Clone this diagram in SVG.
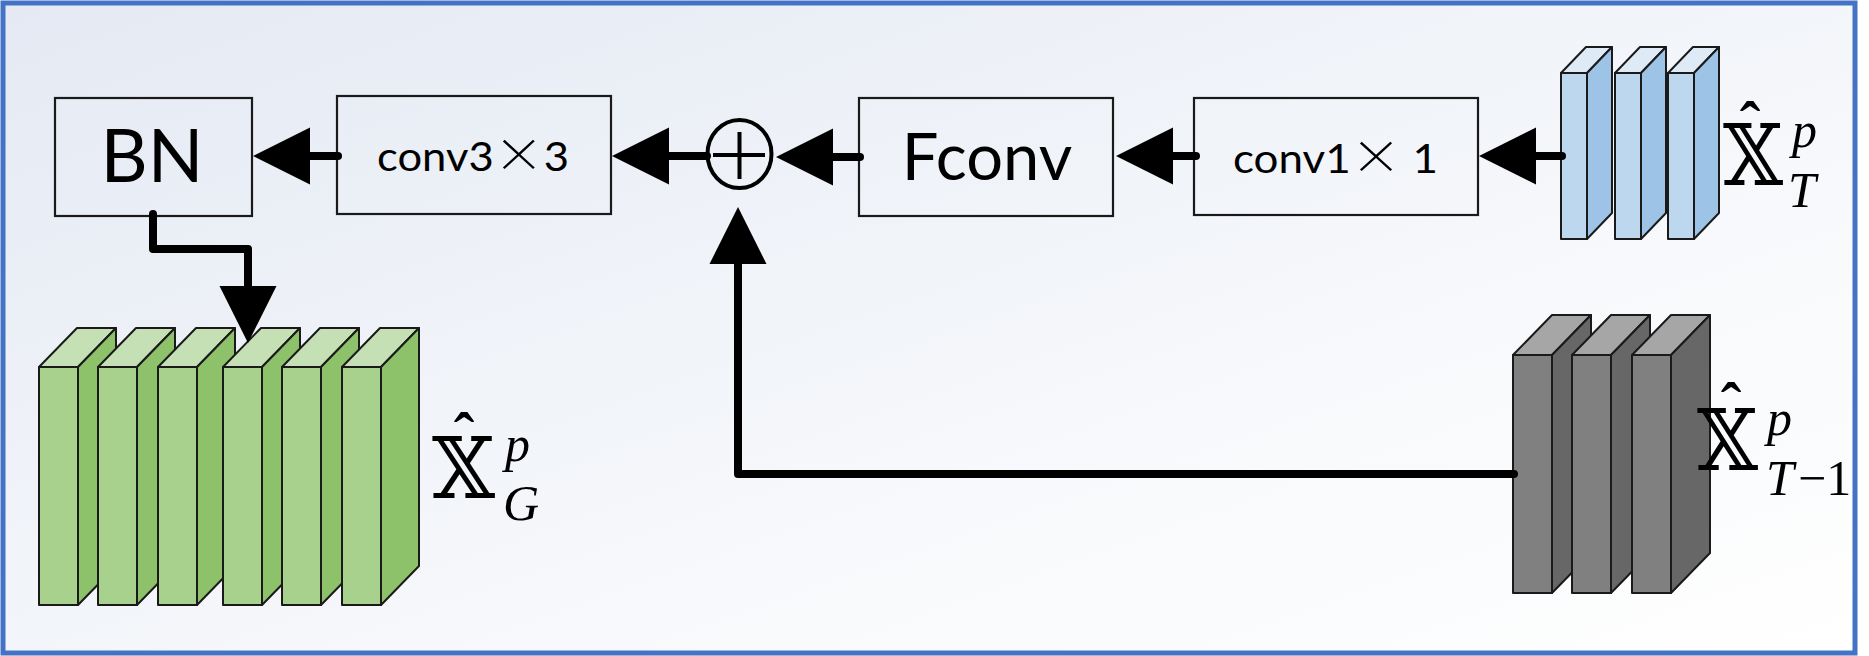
<svg xmlns="http://www.w3.org/2000/svg" xmlns:xlink="http://www.w3.org/1999/xlink" width="1869" height="656" viewBox="0 0 1869 656">
<style>
.box{fill:none;stroke:#1a1a1a;stroke-width:2.2}
.lbl{font-family:Lato,"Open Sans","Liberation Sans",sans-serif;fill:#000;text-anchor:middle}
.mul{font-family:"Noto Sans CJK SC","Noto Sans",sans-serif;font-weight:300}
.conn{fill:none;stroke:#000;stroke-width:8;stroke-linecap:round;stroke-linejoin:round}
.slab{stroke:#1a1a1a;stroke-width:2;stroke-linejoin:round}
.bb{font-family:"DejaVu Serif","DejaVu Sans",serif;fill:#000}
.it{font-family:"Liberation Serif",serif;font-style:italic;fill:#000}
.rm{font-family:"Liberation Serif",serif;fill:#000}
.hat{font-family:"Liberation Serif",serif;font-weight:bold;fill:#000;text-anchor:middle}
</style>
<defs>
<linearGradient id="bg" x1="0" y1="0" x2="1" y2="1">
<stop offset="0" stop-color="#e4e9f3"/>
<stop offset="0.6" stop-color="#f6f8fb"/>
<stop offset="1" stop-color="#ffffff"/>
</linearGradient>
<marker id="ah" markerUnits="userSpaceOnUse" viewBox="0 -29 57 58" refX="0" refY="0" markerWidth="57" markerHeight="58" orient="auto">
<path d="M0,-28.5 L57,0 L0,28.5 Z" fill="#000"/>
</marker>
<g id="slabB">
<rect class="slab" x="0" y="0" width="26" height="166" fill="#bdd7ee"/>
<path class="slab" d="M0,0 L25,-26 L51,-26 L26,0 Z" fill="#deebf7"/>
<path class="slab" d="M26,0 L51,-26 L51,140 L26,166 Z" fill="#9dc3e6"/>
</g>
<g id="slabG">
<rect class="slab" x="0" y="0" width="39" height="238" fill="#a9d18e"/>
<path class="slab" d="M0,0 L38,-39 L77,-39 L39,0 Z" fill="#c5e0b4"/>
<path class="slab" d="M39,0 L77,-39 L77,199 L39,238 Z" fill="#8dc26a"/>
</g>
<g id="slabK">
<rect class="slab" x="0" y="0" width="39" height="238" fill="#808080"/>
<path class="slab" d="M0,0 L39,-40 L78,-40 L39,0 Z" fill="#a6a6a6"/>
<path class="slab" d="M39,0 L78,-40 L78,198 L39,238 Z" fill="#676767"/>
</g>
</defs>
<rect x="0" y="0" width="1869" height="656" fill="#ffffff"/>
<rect x="3" y="3" width="1852" height="650" fill="url(#bg)" stroke="#4472c4" stroke-width="5"/>

<g id="node-bn">
<rect class="box" x="55" y="98" width="197" height="118"/>
<text class="lbl" x="152" y="182" font-size="73">BN</text>
</g>
<g id="node-conv3">
<rect class="box" x="337" y="96" width="274" height="118"/>
<text class="lbl" x="473" y="171" font-size="40" textLength="192" lengthAdjust="spacingAndGlyphs">conv3<tspan class="mul" font-size="46">×</tspan>3</text>
</g>
<g id="node-add">
<ellipse cx="739.5" cy="154" rx="32" ry="34" fill="none" stroke="#000" stroke-width="4"/>
<path d="M713,155 H765 M739.5,132 V179" stroke="#000" stroke-width="4"/>
</g>
<g id="node-fconv">
<rect class="box" x="859" y="98" width="254" height="118"/>
<text class="lbl" x="987" y="180" font-size="65">Fconv</text>
</g>
<g id="node-conv1">
<rect class="box" x="1194" y="98" width="284" height="117"/>
<text class="lbl" x="1335.5" y="173" font-size="40" textLength="205" lengthAdjust="spacingAndGlyphs">conv1<tspan class="mul" font-size="46">×</tspan> 1</text>
</g>

<g id="node-xt">
<use xlink:href="#slabB" x="1561" y="73"/>
<use xlink:href="#slabB" x="1615" y="73"/>
<use xlink:href="#slabB" x="1668" y="73"/>
<text class="bb" x="1723" y="185" font-size="85" textLength="60" lengthAdjust="spacingAndGlyphs">𝕏</text>
<text class="hat" x="1750" y="145" font-size="62">ˆ</text>
<text class="it" x="1792" y="147" font-size="50">p</text>
<text class="it" x="1788" y="207" font-size="50">T</text>
</g>

<g id="node-xt1">
<use xlink:href="#slabK" x="1513" y="355"/>
<use xlink:href="#slabK" x="1572" y="355"/>
<use xlink:href="#slabK" x="1632" y="355"/>
<text class="bb" x="1697" y="470" font-size="85" textLength="61" lengthAdjust="spacingAndGlyphs">𝕏</text>
<text class="hat" x="1731" y="426" font-size="62">ˆ</text>
<text class="it" x="1767" y="435" font-size="50">p</text>
<text class="it" x="1766" y="495" font-size="50">T</text>
<text class="rm" x="1798" y="495" font-size="50">−1</text>
</g>

<g id="node-xg">
<use xlink:href="#slabG" x="39" y="367"/>
<use xlink:href="#slabG" x="98" y="367"/>
<use xlink:href="#slabG" x="158" y="367"/>
<use xlink:href="#slabG" x="223" y="367"/>
<use xlink:href="#slabG" x="282" y="367"/>
<use xlink:href="#slabG" x="342" y="367"/>
<text class="bb" x="432" y="498" font-size="85" textLength="63" lengthAdjust="spacingAndGlyphs">𝕏</text>
<text class="hat" x="464" y="456" font-size="62">ˆ</text>
<text class="it" x="505" y="461" font-size="50">p</text>
<text class="it" x="503" y="520" font-size="50">G</text>
</g>

<g id="connectors">
<path class="conn" d="M338,156 H310" marker-end="url(#ah)"/>
<path class="conn" d="M707,156 H669" marker-end="url(#ah)"/>
<path class="conn" d="M860,157 H833" marker-end="url(#ah)"/>
<path class="conn" d="M1196,156 H1173" marker-end="url(#ah)"/>
<path class="conn" d="M1562,156 H1536" marker-end="url(#ah)"/>
<path class="conn" d="M1514,474 H738 V264" marker-end="url(#ah)"/>
<path class="conn" d="M153,214 V249 H248 V286" marker-end="url(#ah)"/>
</g>
</svg>
